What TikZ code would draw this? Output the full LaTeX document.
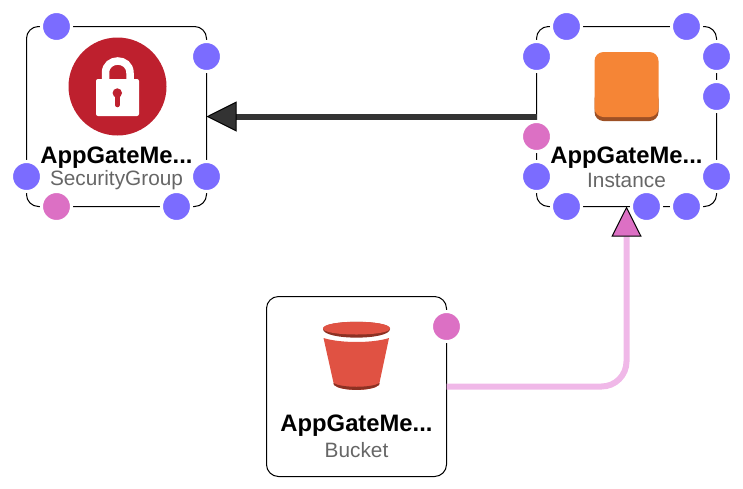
\documentclass[tikz,border=0pt]{standalone}
\usepackage{fontspec}
\setmainfont{Liberation Sans}
\usetikzlibrary{arrows.meta,positioning}

\definecolor{portblue}{HTML}{7B6CFF}
\definecolor{portpink}{HTML}{DC70C4}
\definecolor{edgepink}{HTML}{F0B8E8}
\definecolor{edgedark}{HTML}{333333}
\definecolor{lockred}{HTML}{BE202E}
\definecolor{ecorange}{HTML}{F58536}
\definecolor{ecdark}{HTML}{9D5025}
\definecolor{bucketred}{HTML}{E05243}
\definecolor{bucketdark}{HTML}{8C3123}

\begin{document}
\begin{tikzpicture}[x=1pt,y=-1pt,
  main node/.style={rectangle,draw,line width=1pt,rounded corners=12pt,minimum size=180pt,inner sep=0pt,outer sep=0pt},
  title node/.style={font=\fontsize{23.8}{28}\selectfont\bfseries,inner sep=0pt},
  type node/.style={font=\fontsize{20.8}{25}\selectfont,text=black!60,inner sep=0pt},
  blue port/.style={circle,fill=portblue,draw=white,line width=3pt,minimum size=30pt,inner sep=0pt},
  pink port/.style={blue port,fill=portpink}]

 \useasboundingbox (0,0) rectangle (743,488);

 \node[main node] (group) at (116.5,116.5) {};
 \node[main node] (instance) at (626.5,116.5) {};
 \node[main node] (bucket) at (356.5,386.5) {};

 % icons
 \fill[lockred] (117.5,86.5) circle [radius=49];
 \draw[white,line width=7.5pt] (105.5,84) -- (105.5,73) .. controls (105.5,57) and (130,57) .. (130,73) -- (130,84);
 \fill[white,rounded corners=2pt] (96,79) rectangle (139,116);
 \fill[lockred] (117.3,93) circle [radius=4.7];
 \draw[lockred,line width=4.5pt,line cap=round] (117.3,94) -- (117.3,105);

 \fill[ecdark,rounded corners=9pt] (594.5,90) rectangle (658.5,121);
 \fill[ecorange,rounded corners=9pt] (594.5,52) rectangle (658.5,117);

 \fill[bucketdark] (323,329) .. controls (323,319.5) and (390,319.5) .. (390,329) .. controls (390,340.5) and (323,340.5) .. (323,329) -- cycle;
 \fill[bucketred] (323,328.5) .. controls (323,319.5) and (390,319.5) .. (390,328.5) .. controls (390,336.5) and (323,336.5) .. (323,328.5) -- cycle;
 \fill[bucketred] (323.5,338) .. controls (340,343.3) and (373,343.3) .. (389,338) -- (379,385) .. controls (372,391.5) and (341,391.5) .. (334,385) -- cycle;
 \fill[bucketdark] (333.5,383) .. controls (341,388) and (372,388) .. (379.5,383) -- (379,385) .. controls (372,391.5) and (341,391.5) .. (334,385) -- cycle;

 % labels
 \node[title node] (grouptitle) at (116.5,157.5) {AppGateMe...};
 \node[type node] (grouptype) at (116.5,180.5) {SecurityGroup};
 \node[title node] (instancetitle) at (626.5,157.5) {AppGateMe...};
 \node[type node] (instancetype) at (626.5,180.5) {Instance};
 \node[title node] (buckettitle) at (356.5,426) {AppGateMe...};
 \node[type node] (buckettype) at (356.5,450.5) {Bucket};

 % edges
 \draw[edgedark,line width=6pt,-{Triangle[length=30pt,width=30pt,fill=edgedark,color=black,line width=1pt]}] (instance.west) -- (group.east);
 \draw[edgepink,line width=6pt,rounded corners=25pt,-{Triangle[length=30pt,width=30pt,fill=portpink,color=black,line width=1pt]}] (bucket.east) -| (instance.south);

 % ports
 \node[blue port] (g1) at (56.5,26.5) {};
 \node[blue port] (g2) at (206.5,56.5) {};
 \node[blue port] (g3) at (26.5,176.5) {};
 \node[blue port] (g4) at (206.5,176.5) {};
 \node[pink port] (g5) at (56.5,206.5) {};
 \node[blue port] (g6) at (176.5,206.5) {};

 \node[blue port] (i1) at (566.5,26.5) {};
 \node[blue port] (i2) at (686.5,26.5) {};
 \node[blue port] (i3) at (536.5,56.5) {};
 \node[blue port] (i4) at (716.5,56.5) {};
 \node[blue port] (i5) at (716.5,96.5) {};
 \node[pink port] (i6) at (536.5,136.5) {};
 \node[blue port] (i7) at (536.5,176.5) {};
 \node[blue port] (i8) at (716.5,176.5) {};
 \node[blue port] (i9) at (566.5,206.5) {};
 \node[blue port] (i10) at (646.5,206.5) {};
 \node[blue port] (i11) at (686.5,206.5) {};

 \node[pink port] (b1) at (446.5,326.5) {};

\end{tikzpicture}
\end{document}
